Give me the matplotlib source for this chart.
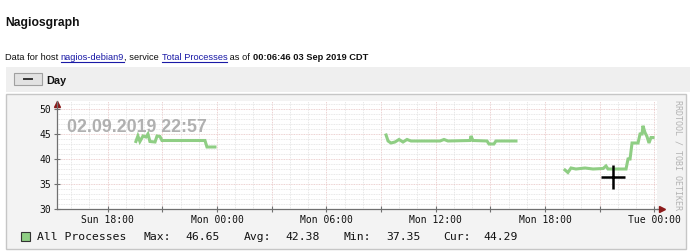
import matplotlib
matplotlib.use("Agg")
import matplotlib.pyplot as plt
from matplotlib.patches import Rectangle
from matplotlib.lines import Line2D

W, H = 690, 252

# hours relative to Mon 00:00
seg1_t = [-4.45, -4.34, -4.23, -4.06, -3.90, -3.79, -3.68, -3.40, -3.29, -3.13, -3.02, -0.66, -0.55, -0.11]
seg1_v = [43.5, 44.6, 43.5, 44.6, 44.4, 45.0, 43.5, 43.4, 44.6, 44.5, 43.7, 43.7, 42.4, 42.4]
seg2_t = [9.28, 9.39, 9.55, 9.77, 9.99, 10.21, 10.43, 10.65, 12.24, 12.46, 12.68, 13.89, 13.94, 14.05,
          14.82, 14.93, 15.20, 15.31, 16.41]
seg2_v = [44.8, 43.6, 43.2, 43.4, 43.9, 43.4, 43.9, 43.6, 43.6, 43.9, 43.6, 43.7, 44.6, 43.7,
          43.6, 43.0, 43.0, 43.6, 43.6]
seg3_t = [19.10, 19.26, 19.43, 19.70, 20.20, 20.64, 21.19, 21.35, 21.46, 22.45, 22.56, 22.67, 22.78,
          23.11, 23.22, 23.33, 23.38, 23.49, 23.60, 23.71, 23.82, 23.93]
seg3_v = [37.8, 37.3, 38.2, 38.0, 38.2, 38.0, 38.1, 38.6, 38.0, 38.0, 40.0, 40.0, 43.2,
          43.2, 45.0, 45.0, 46.65, 45.3, 44.5, 43.2, 44.3, 44.29]

x_ticks = [-6, 0, 6, 12, 18, 24]
x_labels = ["Sun 18:00", "Mon 00:00", "Mon 06:00", "Mon 12:00", "Mon 18:00", "Tue 00:00"]
y_ticks = [30, 35, 40, 45, 50]

stats = [("Max:", "46.65"), ("Avg:", "42.38"), ("Min:", "37.35"), ("Cur:", "44.29")]
cursor = (21.73, 36.4)

green = "#8fce84"
html_font = "Liberation Sans"
mono = "DejaVu Sans Mono"


def fx(x):
    return x / W


def fy(y):
    return 1 - y / H


fig = plt.figure(figsize=(6.9, 2.52), dpi=100)
fig.patch.set_facecolor("white")

# page header
fig.text(fx(5), fy(26), "Nagiosgraph", fontsize=8.7, fontweight="bold",
         family=html_font, va="baseline", color="#111111")

r = fig.canvas.get_renderer()
pieces = [("Data for host ", "n"), ("nagios-debian9", "l"), (", service ", "n"),
          ("Total Processes", "l"), (" as of ", "n"), ("00:06:46 03 Sep 2019 CDT", "b")]
xpos = 5
for s, kind in pieces:
    t = fig.text(fx(xpos), fy(60), s, fontsize=6.7, family=html_font, va="baseline",
                 color="#1a1aa6" if kind == "l" else "#111111",
                 fontweight="bold" if kind == "b" else "normal")
    bb = t.get_window_extent(r)
    if kind == "l":
        fig.add_artist(Line2D([fx(xpos), fx(xpos + bb.width)], [fy(62), fy(62)],
                              color="#1a1aa6", lw=0.8))
    xpos += bb.width

# "Day" bar
fig.add_artist(Rectangle((fx(6), fy(92)), fx(684), 25 / H, facecolor="#efefef",
                         edgecolor="none", zorder=-5))
fig.add_artist(Rectangle((fx(14), fy(85)), fx(28), 12 / H, facecolor="#e2e2e2",
                         edgecolor="#a0a0a0", lw=0.8, zorder=-4))
fig.add_artist(Line2D([fx(24), fx(32)], [fy(79), fy(79)], color="#333333", lw=1.4))
fig.text(fx(46), fy(84.5), "Day", fontsize=7.8, fontweight="bold", family=html_font,
         va="baseline", color="#111111")

# rrd image frame
fig.add_artist(Rectangle((fx(6), fy(249)), fx(680), 155 / H, facecolor="#f3f3f3",
                         edgecolor="#c6c6c6", lw=1.0, zorder=-5))

ax = fig.add_axes([fx(57), fy(209), (657 - 57) / W, (209 - 101) / H])
ax.set_facecolor("white")
ax.set_xlim(-8.78, 24.15)
ax.set_ylim(30, 51.6)

ax.set_xticks([h for h in range(-6, 25, 3)], minor=False)
ax.set_xticks([h for h in range(-8, 25)], minor=True)
ax.set_xticklabels([x_labels[x_ticks.index(h)] if h in x_ticks else "" for h in range(-6, 25, 3)])
ax.set_yticks(y_ticks)
ax.set_yticks(range(30, 52), minor=True)

ax.grid(True, which="minor", color="#e0e0e0", lw=0.6, ls=(0, (1, 1)))
ax.grid(True, which="major", color="#e6c2c2", lw=0.6, ls=(0, (1, 1)))
ax.set_axisbelow(True)

for s in ["top", "right"]:
    ax.spines[s].set_visible(False)
for s in ["left", "bottom"]:
    ax.spines[s].set_color("#707070")
    ax.spines[s].set_linewidth(0.9)

ax.tick_params(which="major", direction="inout", length=4, width=0.8, color="#707070",
               labelsize=7, labelcolor="#111111", pad=2)
ax.tick_params(which="minor", length=0)
for lab in ax.get_xticklabels() + ax.get_yticklabels():
    lab.set_family(mono)

# axis arrows
ax.plot([24.15, 24.45], [30, 30], color="#707070", lw=0.9, clip_on=False)
ax.plot([24.45], [30], marker=">", color="#8b1a1a", ms=4, clip_on=False)
ax.plot([-8.78], [51.0], marker="^", color="#8b1a1a", ms=4, clip_on=False)

# watermark
ax.text(0.016, 0.755, "02.09.2019 22:57", transform=ax.transAxes, fontsize=12.8,
        fontweight="bold", family=html_font, color="#b0b0b0", va="center", ha="left")

for t, v in [(seg1_t, seg1_v), (seg2_t, seg2_v), (seg3_t, seg3_v)]:
    ax.plot(t, v, color=green, lw=2.2, solid_joinstyle="miter")

# mouse cursor captured in the screenshot
ax.plot([cursor[0]], [cursor[1]], marker="+", color="black", ms=17, mew=1.8, clip_on=False)

# side text
fig.text(fx(678), fy(100), "RRDTOOL / TOBI OETIKER", rotation=270, fontsize=6,
         family=mono, color="#b3b3b3", ha="center", va="top")

# legend
fig.add_artist(Rectangle((fx(21), fy(241)), 9 / W, 9 / H, facecolor=green,
                         edgecolor="#333333", lw=0.8))
fig.text(fx(37), fy(236.5), "All Processes", fontsize=8.2, family=mono, va="center",
         color="#111111")
lx = [(143, 185), (244, 285), (343, 386), (443, 483)]
for (name, val), (a, b) in zip(stats, lx):
    fig.text(fx(a), fy(236.5), name, fontsize=8.2, family=mono, va="center", color="#111111")
    fig.text(fx(b), fy(236.5), val, fontsize=8.2, family=mono, va="center", color="#111111")

fig.savefig("out.png", dpi=100)
